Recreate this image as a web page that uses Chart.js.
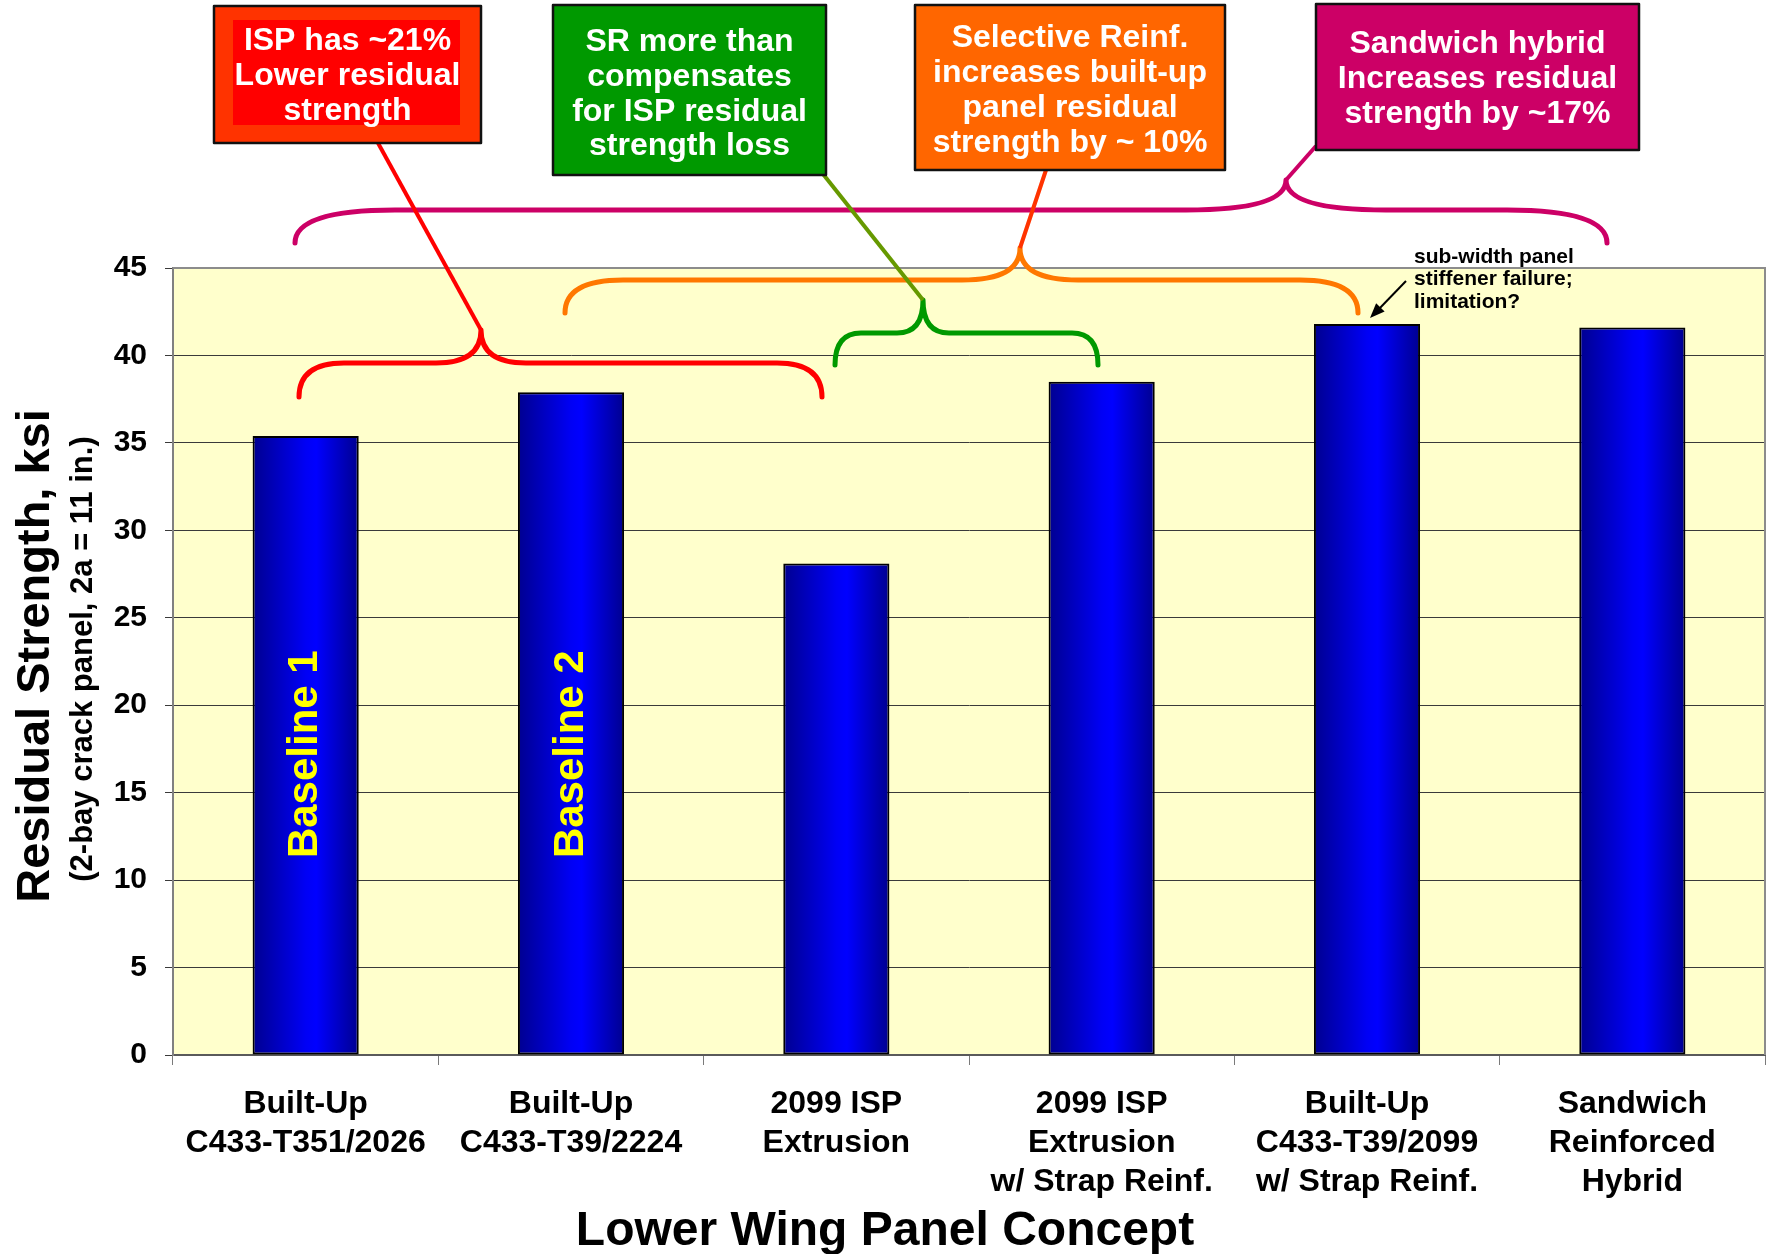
<!DOCTYPE html>
<html>
<head>
<meta charset="utf-8">
<title>Lower Wing Panel Concept</title>
<script src="https://cdn.jsdelivr.net/npm/chart.js@4.4.7/dist/chart.umd.min.js"></script>
<style>
  html, body { margin: 0; padding: 0; background: #fff; }
  #wrap { position: relative; width: 1767px; height: 1254px; }
</style>
</head>
<body>
<div id="wrap"><canvas id="strengthChart"></canvas></div>
<script>
// ===== データ =====
const categories = [
  ['Built-Up', 'C433-T351/2026'],
  ['Built-Up', 'C433-T39/2224'],
  ['2099 ISP', 'Extrusion'],
  ['2099 ISP', 'Extrusion', 'w/ Strap Reinf.'],
  ['Built-Up', 'C433-T39/2099', 'w/ Strap Reinf.'],
  ['Sandwich', 'Reinforced', 'Hybrid']
];
const residualStrength = [35.4, 37.9, 28.1, 38.5, 41.8, 41.6];
const barNotes = ['Baseline 1', 'Baseline 2', '', '', '', ''];
const yTickValues = [0, 5, 10, 15, 20, 25, 30, 35, 40, 45];

const FONT = "'Liberation Sans', Arial, Helvetica, sans-serif";
const BAR_PCT = 0.4;

// ===== 注釈（吹き出し・括弧） =====
const callouts = [
  { lines: ['ISP has ~21%', 'Lower residual', 'strength'],
    x: 214, y: 6, w: 267, h: 137, fill: '#FF3300',
    inner: { x: 233, y: 20, w: 227, h: 105, fill: '#FF0000' }, firstY: 41.5, step: 35 },
  { lines: ['SR more than', 'compensates', 'for ISP residual', 'strength loss'],
    x: 553, y: 5, w: 273, h: 170, fill: '#009900', firstY: 42.5, step: 34.6 },
  { lines: ['Selective Reinf.', 'increases built-up', 'panel residual', 'strength by ~ 10%'],
    x: 915, y: 5, w: 310, h: 165, fill: '#FF6600', firstY: 38.5, step: 35 },
  { lines: ['Sandwich hybrid', 'Increases residual', 'strength by ~17%'],
    x: 1316, y: 4, w: 323, h: 146, fill: '#CC0066', firstY: 44.5, step: 35 }
];

const braces = [
  { color: '#CC0066', x0: 295, x1: 1607, xt: 1286, yTip: 180, yBar: 210, yEnd: 243, r: 100 },
  { color: '#FF7700', x0: 565, x1: 1358, xt: 1020, yTip: 248, yBar: 280, yEnd: 313, r: 58 },
  { color: '#009900', x0: 835, x1: 1098, xt: 923, yTip: 300, yBar: 333, yEnd: 365, r: 26 },
  { color: '#FF0000', x0: 299, x1: 822, xt: 481, yTip: 330, yBar: 363, yEnd: 397, r: 45 }
];

const leaders = [
  { color: '#FF0000', from: [378, 143], to: [481, 330] },
  { color: '#669900', from: [823, 174], to: [923, 300] },
  { color: '#FF3300', from: [1046, 170], to: [1020, 248] },
  { color: '#CC0066', from: [1316, 146], to: [1286, 180] }
];

const noteLines = ['sub-width panel', 'stiffener failure;', 'limitation?'];

// ===== バーのグラデーション =====
function barGradient(context) {
  const chart = context.chart;
  const xs = chart.scales.x;
  if (!xs || context.type !== 'data') return '#0000FF';
  const cx = xs.getPixelForValue(context.dataIndex);
  const w = xs.width / categories.length * BAR_PCT;
  if (!isFinite(cx) || !isFinite(w) || w <= 0) return '#0000FF';
  const g = chart.ctx.createLinearGradient(cx - w / 2, 0, cx + w / 2, 0);
  g.addColorStop(0, '#000090');
  g.addColorStop(0.5, '#0000F5');
  g.addColorStop(0.6, '#0000FF');
  g.addColorStop(1, '#000090');
  return g;
}

function drawBrace(ctx, b) {
  ctx.beginPath();
  ctx.moveTo(b.x0, b.yEnd);
  ctx.quadraticCurveTo(b.x0, b.yBar, b.x0 + b.r, b.yBar);
  ctx.lineTo(b.xt - b.r, b.yBar);
  ctx.quadraticCurveTo(b.xt, b.yBar, b.xt, b.yTip);
  ctx.quadraticCurveTo(b.xt, b.yBar, b.xt + b.r, b.yBar);
  ctx.lineTo(b.x1 - b.r, b.yBar);
  ctx.quadraticCurveTo(b.x1, b.yBar, b.x1, b.yEnd);
  ctx.strokeStyle = b.color;
  ctx.lineWidth = 5;
  ctx.lineCap = 'round';
  ctx.lineJoin = 'round';
  ctx.stroke();
}

// ===== 描画プラグイン =====
const decorPlugin = {
  id: 'decor',
  beforeDraw(chart) {
    const { ctx, chartArea: a } = chart;
    ctx.save();
    ctx.fillStyle = '#FFFFCC';
    ctx.fillRect(a.left, a.top, a.right - a.left, a.bottom - a.top);
    ctx.restore();
  },
  beforeDatasetsDraw(chart) {
    const { ctx, chartArea: a } = chart;
    ctx.save();
    ctx.strokeStyle = '#8C8C8C';
    ctx.lineWidth = 2;
    ctx.beginPath();
    ctx.moveTo(a.left, a.top);
    ctx.lineTo(a.right, a.top);
    ctx.lineTo(a.right, a.bottom);
    ctx.stroke();
    ctx.restore();
  },
  afterDatasetsDraw(chart) {
    const { ctx } = chart;
    const meta = chart.getDatasetMeta(0);
    const ys = chart.scales.y;
    ctx.save();
    ctx.fillStyle = '#FFFF00';
    ctx.font = 'bold 42px ' + FONT;
    ctx.textAlign = 'center';
    ctx.textBaseline = 'middle';
    meta.data.forEach((bar, i) => {
      if (!barNotes[i]) return;
      ctx.save();
      ctx.translate(bar.x, ys.getPixelForValue(17.2));
      ctx.rotate(-Math.PI / 2);
      ctx.fillText(barNotes[i], 0, 0);
      ctx.restore();
    });
    ctx.restore();
  },
  afterDraw(chart) {
    const { ctx } = chart;
    ctx.save();

    // 軸タイトル
    ctx.fillStyle = '#000';
    ctx.textAlign = 'center';
    ctx.textBaseline = 'alphabetic';
    ctx.save();
    ctx.translate(49, 656);
    ctx.rotate(-Math.PI / 2);
    ctx.font = 'bold 47px ' + FONT;
    ctx.fillText('Residual Strength, ksi', 0, 0);
    ctx.restore();
    ctx.save();
    ctx.translate(92, 659);
    ctx.rotate(-Math.PI / 2);
    ctx.font = 'bold 31px ' + FONT;
    ctx.fillText('(2-bay crack panel, 2a = 11 in.)', 0, 0);
    ctx.restore();
    ctx.font = 'bold 48px ' + FONT;
    ctx.fillText('Lower Wing Panel Concept', 885, 1245);

    // 括弧と引き出し線
    braces.forEach(b => drawBrace(ctx, b));
    leaders.forEach(l => {
      ctx.beginPath();
      ctx.moveTo(l.from[0], l.from[1]);
      ctx.lineTo(l.to[0], l.to[1]);
      ctx.strokeStyle = l.color;
      ctx.lineWidth = 4;
      ctx.lineCap = 'butt';
      ctx.stroke();
    });

    // 吹き出しボックス
    callouts.forEach(c => {
      ctx.fillStyle = c.fill;
      ctx.fillRect(c.x, c.y, c.w, c.h);
      if (c.inner) {
        ctx.fillStyle = c.inner.fill;
        ctx.fillRect(c.inner.x, c.inner.y, c.inner.w, c.inner.h);
      }
      ctx.strokeStyle = '#111';
      ctx.lineWidth = 2.5;
      ctx.strokeRect(c.x, c.y, c.w, c.h);
      ctx.fillStyle = '#FFFFFF';
      ctx.font = 'bold 32px ' + FONT;
      ctx.textAlign = 'center';
      ctx.textBaseline = 'middle';
      c.lines.forEach((t, i) => ctx.fillText(t, c.x + c.w / 2, c.firstY + i * c.step));
    });

    // 補足メモと矢印
    ctx.fillStyle = '#000';
    ctx.font = 'bold 21px ' + FONT;
    ctx.textAlign = 'left';
    ctx.textBaseline = 'middle';
    noteLines.forEach((t, i) => ctx.fillText(t, 1414, 257 + i * 22.5));
    ctx.strokeStyle = '#000';
    ctx.lineWidth = 2;
    ctx.beginPath();
    ctx.moveTo(1406, 281);
    ctx.lineTo(1378, 310);
    ctx.stroke();
    const ang = Math.atan2(318 - 281, 1370 - 1406);
    ctx.beginPath();
    ctx.moveTo(1370, 318);
    ctx.lineTo(1370 - 16 * Math.cos(ang - 0.38), 318 - 16 * Math.sin(ang - 0.38));
    ctx.lineTo(1370 - 16 * Math.cos(ang + 0.38), 318 - 16 * Math.sin(ang + 0.38));
    ctx.closePath();
    ctx.fillStyle = '#000';
    ctx.fill();

    ctx.restore();
  }
};

// ===== チャート作成 =====
function createStrengthChart() {
  const ctx = document.getElementById('strengthChart').getContext('2d');
  new Chart(ctx, {
    type: 'bar',
    data: {
      labels: categories,
      datasets: [
        {
          label: 'Residual Strength',
          data: residualStrength,
          backgroundColor: barGradient,
          borderColor: '#000000',
          borderWidth: 2,
          borderSkipped: false,
          barPercentage: BAR_PCT,
          categoryPercentage: 1.0
        }
      ]
    },
    options: {
      responsive: true,
      maintainAspectRatio: false,
      animation: false,
      layout: { padding: { top: 268, right: 2, left: 0, bottom: 0 } },
      plugins: {
        legend: { display: false },
        tooltip: { enabled: false }
      },
      scales: {
        x: {
          afterFit: scale => { scale.height = 199; },
          grid: {
            offset: true,
            drawOnChartArea: false,
            tickLength: 10,
            color: '#7A7A7A'
          },
          border: { color: '#5A5A5A', width: 2 },
          ticks: {
            autoSkip: false,
            maxRotation: 0,
            padding: 20,
            color: '#000',
            font: { family: FONT, size: 32, weight: 'bold', lineHeight: 1.22 }
          }
        },
        y: {
          min: 0,
          max: 45,
          afterFit: scale => { scale.width = 173; },
          afterBuildTicks: scale => {
            scale.ticks = yTickValues.map(v => ({ value: v }));
          },
          grid: {
            color: '#3A3A3A',
            lineWidth: 1,
            tickLength: 8
          },
          border: { color: '#808080', width: 2 },
          ticks: {
            padding: 18,
            color: '#000',
            font: { family: FONT, size: 30, weight: 'bold' }
          }
        }
      }
    },
    plugins: [decorPlugin]
  });
}

document.addEventListener('DOMContentLoaded', () => {
  createStrengthChart();
});
</script>
</body>
</html>
